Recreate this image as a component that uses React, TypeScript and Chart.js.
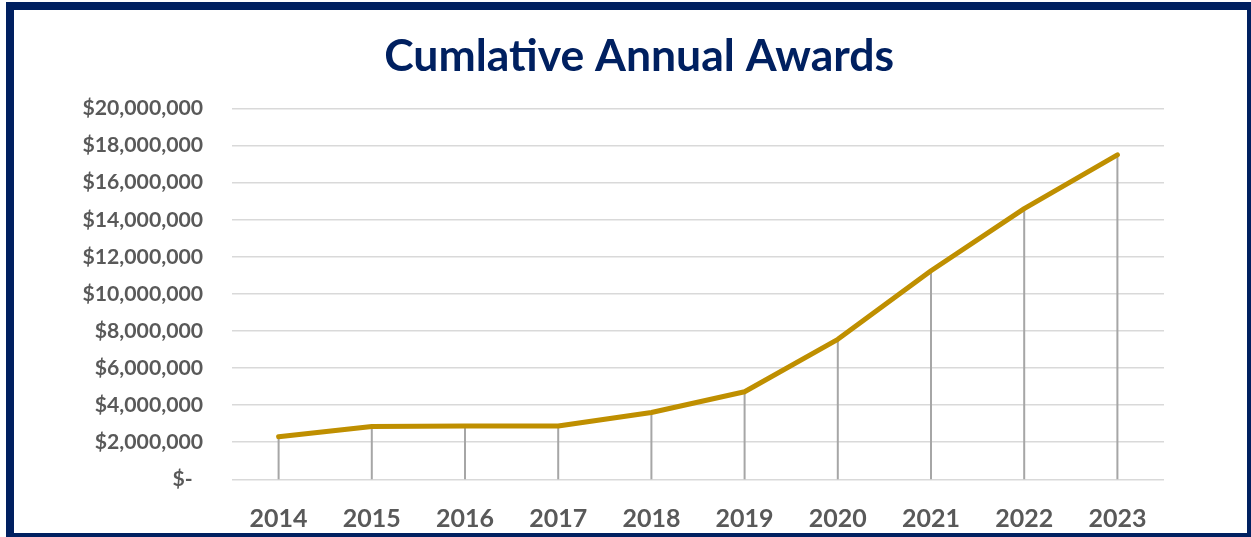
import React, { useEffect, useRef } from "react";
import { Chart, registerables } from "chart.js";

Chart.register(...registerables);

const years = ["2014", "2015", "2016", "2017", "2018", "2019", "2020", "2021", "2022", "2023"];
const cumulativeAwards = [2300000, 2850000, 2870000, 2870000, 3600000, 4720000, 7550000, 11250000, 14600000, 17500000];
const titleText = "Cumlative Annual Awards";
const yMax = 20000000;
const yStep = 2000000;

const FONT = "Lato, 'Open Sans', sans-serif";

const dropLines = {
  id: "dropLines",
  beforeDatasetsDraw(chart: any) {
    const meta = chart.getDatasetMeta(0);
    const yScale = chart.scales.y;
    const ctx = chart.ctx;
    ctx.save();
    ctx.strokeStyle = "#a6a6a6";
    ctx.lineWidth = 2;
    meta.data.forEach((pt: any) => {
      ctx.beginPath();
      ctx.moveTo(pt.x, pt.y);
      ctx.lineTo(pt.x, yScale.getPixelForValue(0));
      ctx.stroke();
    });
    ctx.restore();
  },
};

const titlePlugin = {
  id: "customTitle",
  afterDraw(chart: any) {
    const ctx = chart.ctx;
    ctx.save();
    ctx.font = `bold 44.5px ${FONT}`;
    ctx.fillStyle = "#002060";
    ctx.textAlign = "center";
    ctx.textBaseline = "alphabetic";
    ctx.fillText(titleText, chart.width * 0.507, 61);
    ctx.restore();
  },
};

export default function App() {
  const ref = useRef<HTMLCanvasElement>(null);
  useEffect(() => {
    if (!ref.current) return;
    const chart = new Chart(ref.current, {
      type: "line",
      data: {
        labels: years,
        datasets: [
          {
            data: cumulativeAwards,
            borderColor: "#bf8f00",
            backgroundColor: "#bf8f00",
            borderWidth: 5,
            borderCapStyle: "round",
            borderJoinStyle: "round",
            pointRadius: 0,
            tension: 0,
          },
        ],
      },
      options: {
        animation: false,
        responsive: false,
        maintainAspectRatio: false,
        layout: { padding: { top: 98.5, right: 83, bottom: 0, left: 0 } },
        plugins: { legend: { display: false }, title: { display: false }, tooltip: { enabled: false } },
        scales: {
          x: {
            offset: true,
            grid: { display: false, drawTicks: false },
            border: { display: false },
            ticks: {
              color: "#595959",
              padding: 25,
              font: { family: FONT, size: 25, weight: "bold" },
            },
            afterFit(scale: any) {
              scale.height = 53.7;
            },
          },
          y: {
            min: 0,
            max: yMax,
            grid: { color: "#d9d9d9", lineWidth: 1.5, drawTicks: false },
            border: { display: false },
            ticks: {
              stepSize: yStep,
              color: "#595959",
              padding: 29,
              font: { family: FONT, size: 21.2, weight: "bold" },
              callback: (v: any) => (v === 0 ? "$-  " : "$" + Number(v).toLocaleString("en-US")),
            },
            afterFit(scale: any) {
              scale.width = 218;
            },
          },
        },
      },
      plugins: [dropLines, titlePlugin],
    });
    return () => chart.destroy();
  }, []);

  return (
    <div style={{ position: "fixed", left: 0, top: 0, width: 1251, height: 537, overflow: "hidden", background: "#fff" }}>
      <div
        style={{
          position: "absolute",
          left: 6,
          top: 2,
          width: 1249,
          height: 539,
          boxSizing: "border-box",
          border: "8px solid #002060",
          background: "#fff",
        }}
      >
        <canvas ref={ref} width={1233} height={523} style={{ display: "block", width: 1233, height: 523 }} />
      </div>
    </div>
  );
}
